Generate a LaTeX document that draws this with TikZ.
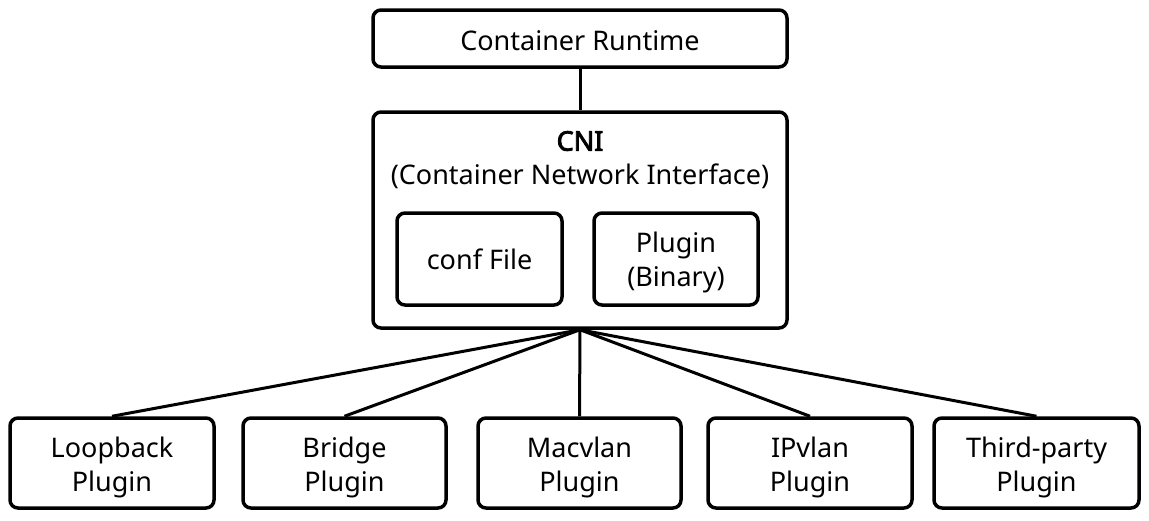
\documentclass[tikz,border=0pt]{standalone}
\usepackage{fontspec}
\setmainfont{Noto Sans}
\newfontfamily\cnibold{Noto Sans}[FakeBold=3]
\newcommand\mytxt[2][0pt]{\raisebox{#1}[\height][\depth]{\begin{tabular}{@{}c@{}}#2\end{tabular}}}
\begin{document}
\begin{tikzpicture}[x=1pt,y=-1pt,
  box/.style={draw=black,line width=3.5pt,rounded corners=8pt,fill=white,inner sep=0pt,align=center,
    font=\fontsize{27}{34}\selectfont},
  conn/.style={line width=3pt}]
\useasboundingbox (0,0) rectangle (1149,520);
\node[box,minimum width=414pt,minimum height=57pt] (rt) at (580,38.5) {\mytxt[-5pt]{Container Runtime}};
\node[box,minimum width=414pt,minimum height=216pt] (cni) at (580,220) {};
\node[font=\fontsize{27}{34}\cnibold] (cnit) at (580,141) {CNI};
\node[font=\fontsize{27}{34}\selectfont] (cnis) at (580,176) {(Container Network Interface)};
\node[box,minimum width=165pt,minimum height=92pt] (conf) at (479.5,259) {\mytxt[-4pt]{conf File}};
\node[box,minimum width=164pt,minimum height=92pt] (bin) at (676,259) {\mytxt[-4pt]{Plugin\\(Binary)}};
\node[box,minimum width=204pt,minimum height=90pt] (p1) at (112,463) {\mytxt[-5pt]{Loopback\\Plugin}};
\node[box,minimum width=203pt,minimum height=90pt] (p2) at (344.5,463) {\mytxt[-5pt]{Bridge\\Plugin}};
\node[box,minimum width=203pt,minimum height=90pt] (p3) at (579.5,463) {\mytxt[-5pt]{Macvlan\\Plugin}};
\node[box,minimum width=204pt,minimum height=90pt] (p4) at (810,463) {\mytxt[-5pt]{IPvlan\\Plugin}};
\node[box,minimum width=205pt,minimum height=90pt] (p5) at (1036.5,463) {\mytxt[-5pt]{Third-party\\Plugin}};
\draw[conn] (rt.south) -- (cni.north);
\foreach \p in {p1,p2,p3,p4,p5} \draw[conn] (cni.south) -- (\p.north);
\end{tikzpicture}
\end{document}
